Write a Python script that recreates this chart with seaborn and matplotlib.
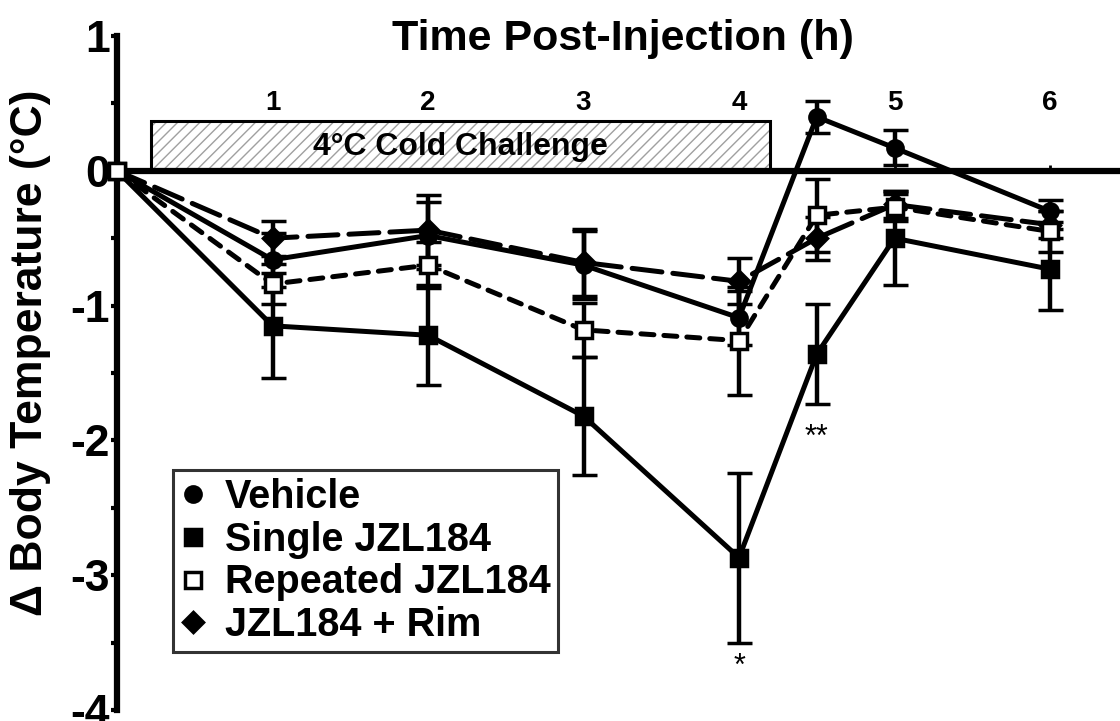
import numpy as np
import pandas as pd
import matplotlib
matplotlib.use("Agg")
import matplotlib.pyplot as plt
from matplotlib.patches import Rectangle
from matplotlib.lines import Line2D
import seaborn as sns

# Data
times = [0, 1, 2, 3, 4, 4.5, 5, 6]
groups = ["Vehicle", "Single JZL184", "Repeated JZL184", "JZL184 + Rim"]

vehicle_mean = [0, -0.66, -0.48, -0.70, -1.09, 0.40, 0.17, -0.30]
vehicle_sem = [0, 0.20, 0.25, 0.25, 0.20, 0.12, 0.13, 0.08]
single_mean = [0, -1.15, -1.22, -1.82, -2.87, -1.36, -0.50, -0.73]
single_sem = [0, 0.39, 0.37, 0.44, 0.63, 0.37, 0.35, 0.30]
repeated_mean = [0, -0.84, -0.70, -1.18, -1.26, -0.33, -0.27, -0.45]
repeated_sem = [0, 0.15, 0.17, 0.20, 0.40, 0.27, 0.10, 0.15]
rim_mean = [0, -0.50, -0.44, -0.68, -0.82, -0.50, -0.25, -0.40]
rim_sem = [0, 0.13, 0.26, 0.25, 0.17, 0.16, 0.10, 0.10]

cold_start, cold_end, cold_height = 0.22, 4.2, 0.37
star_labels = ["*", "**"]
star_x = [4, 4.5]
star_y = [-3.68, -1.98]

means = {"Vehicle": vehicle_mean, "Single JZL184": single_mean,
         "Repeated JZL184": repeated_mean, "JZL184 + Rim": rim_mean}
sems = {"Vehicle": vehicle_sem, "Single JZL184": single_sem,
        "Repeated JZL184": repeated_sem, "JZL184 + Rim": rim_sem}

df = pd.concat([pd.DataFrame({"time": times, "temp": means[g], "group": g}) for g in groups],
               ignore_index=True)

sns.set_style("ticks")
plt.rcParams["font.family"] = ["Liberation Sans", "DejaVu Sans"]
plt.rcParams["hatch.linewidth"] = 1.0
for key in ["text.color", "axes.labelcolor", "xtick.color", "ytick.color", "axes.edgecolor"]:
    plt.rcParams[key] = "black"

fig = plt.figure(figsize=(11.2, 7.21), dpi=100)
ax = fig.add_axes([117 / 1120, 1 - 710 / 721, 1 - 117 / 1120, (710 - 36) / 721])

# cold challenge box
ax.add_patch(Rectangle((cold_start, 0), cold_end - cold_start, cold_height,
                       facecolor="white", edgecolor="#a0a0a0", hatch="///", linewidth=0, zorder=1))
ax.add_patch(Rectangle((cold_start, 0), cold_end - cold_start, cold_height,
                       facecolor="none", edgecolor="black", linewidth=2.2, zorder=2))
ax.text((cold_start + cold_end) / 2, 0.18, "4°C Cold Challenge",
        ha="center", va="center", fontsize=23, fontweight="bold", zorder=2)

dashes = {"Vehicle": "", "Single JZL184": "", "Repeated JZL184": (2.6, 2.0),
          "JZL184 + Rim": (6.0, 2.2)}
palette = {g: "black" for g in groups}
sns.lineplot(data=df, x="time", y="temp", hue="group", style="group", palette=palette,
             dashes=dashes, linewidth=3.6, sort=False, legend=False, ax=ax, zorder=3)
for line in ax.get_lines():
    line.set_dash_capstyle("round")
    line.set_solid_capstyle("round")

marker_style = {
    "Vehicle": dict(marker="o", mfc="black"),
    "Single JZL184": dict(marker="s", mfc="black"),
    "JZL184 + Rim": dict(marker="D", mfc="black"),
    "Repeated JZL184": dict(marker="s", mfc="white"),
}
for g in ["Vehicle", "Single JZL184", "JZL184 + Rim", "Repeated JZL184"]:
    st = marker_style[g]
    ax.errorbar(times, means[g], yerr=sems[g], fmt=st["marker"], mfc=st["mfc"], mec="black",
                mew=2.5, ms=11 if st["marker"] != "D" else 10, ecolor="black", elinewidth=3.2,
                capsize=9, capthick=3.5, linestyle="none", zorder=4, clip_on=False)

for lab, sx, sy in zip(star_labels, star_x, star_y):
    ax.text(sx, sy, lab, ha="center", va="center", fontsize=22)

# axes styling
ax.set_xlim(0, 6.45)
ax.set_ylim(-4, 1)
ax.spines["top"].set_visible(False)
ax.spines["right"].set_visible(False)
ax.spines["bottom"].set_position(("data", 0))
ax.spines["bottom"].set_linewidth(4.5)
ax.spines["bottom"].set_zorder(2.5)
ax.spines["left"].set_linewidth(4.5)

ax.set_xticks([1, 2, 3, 4, 5, 6])
ax.set_xticklabels(["1", "2", "3", "4", "5", "6"], fontsize=20, fontweight="bold")
ax.tick_params(axis="x", direction="in", length=4, width=2, pad=-58)
ax.set_yticks([1, 0, -1, -2, -3, -4])
ax.set_yticklabels(["1", "0", "-1", "-2", "-3", "-4"], fontsize=32, fontweight="bold")
ax.set_yticks(np.arange(-3.5, 1, 1.0), minor=True)
ax.tick_params(axis="y", which="major", direction="out", length=4, width=3, pad=1)
ax.tick_params(axis="y", which="minor", direction="out", length=4, width=3)
ax.set_xlabel("")
ax.set_ylabel("Δ Body Temperature (°C)", fontsize=32, fontweight="bold")
ax.yaxis.set_label_coords(-0.066, 0.53)

fig.text(623 / 1120, 1 - 50 / 721, "Time Post-Injection (h)", ha="center", va="baseline",
         fontsize=31, fontweight="bold")

handles = [Line2D([], [], linestyle="none", marker=marker_style[g]["marker"],
                  mfc=marker_style[g]["mfc"], mec="black", mew=2.5,
                  ms=11 if marker_style[g]["marker"] != "D" else 10) for g in groups]
leg = ax.legend(handles, groups, loc="lower left", bbox_to_anchor=(0.056, 0.086),
                borderaxespad=0, frameon=True, fancybox=False, handlelength=0.6,
                handletextpad=0.5, labelspacing=0.12, borderpad=0.2,
                prop={"size": 28.5, "weight": "bold"})
leg.get_frame().set_edgecolor("black")
leg.get_frame().set_linewidth(2.2)

fig.savefig("out.png", dpi=100)
